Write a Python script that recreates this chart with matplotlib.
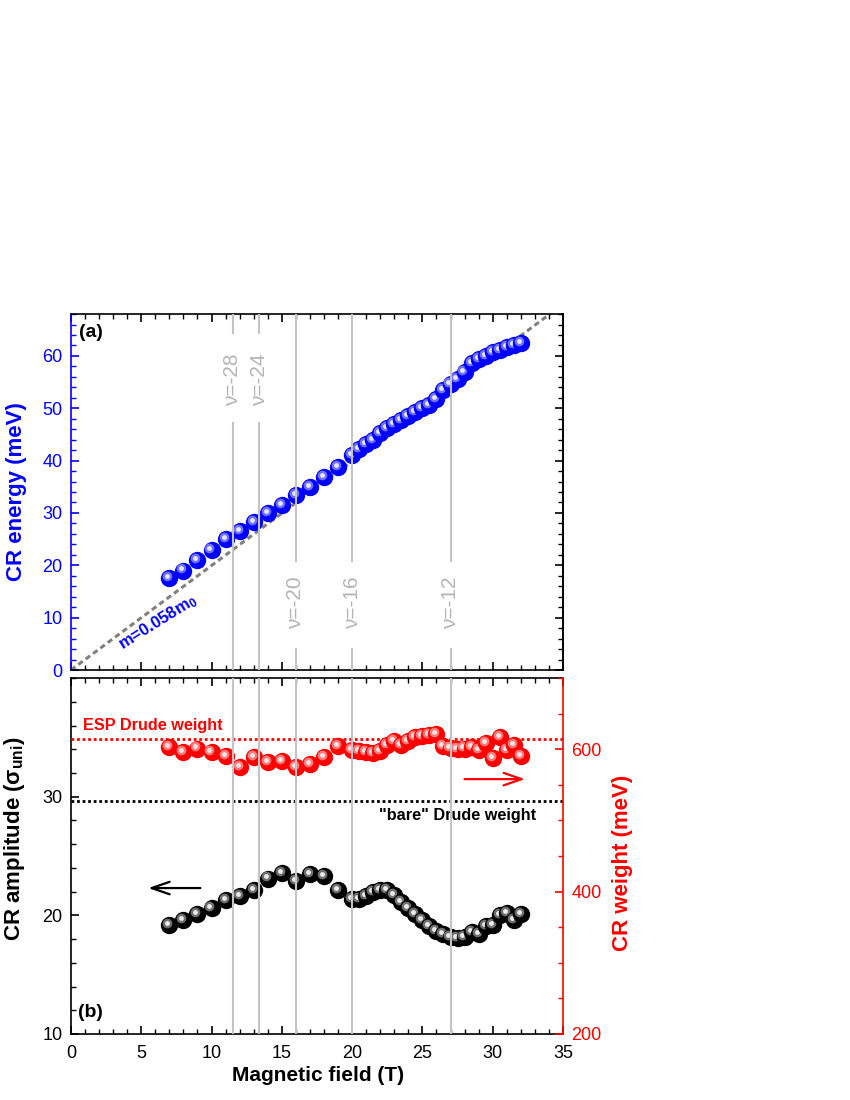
import matplotlib
matplotlib.use('Agg')
import matplotlib.pyplot as plt
from matplotlib.ticker import MultipleLocator
from matplotlib.transforms import offset_copy

plt.rcParams['font.family'] = ['Liberation Sans', 'DejaVu Sans']
plt.rcParams['mathtext.default'] = 'regular'

# magnetic field of every measured point (T)
field = [7, 8, 9, 10, 11, 12, 13, 14, 15, 16, 17, 18, 19,
         20, 20.5, 21, 21.5, 22, 22.5, 23, 23.5, 24, 24.5, 25, 25.5,
         26, 26.5, 27, 27.5, 28, 28.5, 29, 29.5, 30, 30.5, 31, 31.5, 32]

# (a) CR energy (meV)
energy = [17.6, 19.0, 21.0, 22.9, 25.0, 26.6, 28.3, 30.0, 31.6, 33.5, 35.0, 36.8, 38.8,
          41.0, 42.2, 43.2, 44.0, 45.2, 46.2, 47.0, 47.8, 48.6, 49.3, 50.0, 50.7,
          51.8, 53.5, 54.6, 55.6, 57.0, 58.6, 59.4, 60.0, 60.7, 61.2, 61.7, 62.1, 62.5]

# (b) CR amplitude (sigma_uni), left axis
amplitude = [19.2, 19.6, 20.1, 20.6, 21.3, 21.6, 22.1, 23.1, 23.6, 22.9, 23.5, 23.3, 22.1,
             21.4, 21.4, 21.6, 22.0, 22.1, 22.1, 21.7, 21.1, 20.6, 20.1, 19.6, 19.1,
             18.7, 18.4, 18.2, 18.1, 18.2, 18.6, 18.4, 19.1, 19.2, 20.0, 20.2, 19.6, 20.1]

# (b) CR weight (meV), right axis
weight = [603, 596, 601, 596, 591, 575, 589, 582, 584, 575, 579, 589, 604,
          599, 597, 596, 595, 597, 606, 612, 606, 611, 617, 619, 620,
          621, 604, 602, 600, 601, 603, 599, 609, 587, 617, 599, 606, 591]

# filling factors
nu_field = [11.5, 13.4, 16, 20, 27]
nu_labels = ['ν=-28', 'ν=-24', 'ν=-20', 'ν=-16', 'ν=-12']
nu_upper = [True, True, False, False, False]

mass_ratio = 0.058          # m / m0
hbar_e_over_m0 = 0.11577    # meV/T
esp_weight = 615            # meV
bare_amplitude = 29.6

BLUE = '#0000ff'
RED = '#ff0000'
LINE_GREY = '#c4c4c4'
TEXT_GREY = '#b4b4b4'


def balls(ax, x, y, base, mid, core, z0=3):
    # shaded "3D" spheres: base disc + offset highlight
    hl = offset_copy(ax.transData, fig=ax.figure, x=-1.5, y=1.5, units='points')
    for i, (xi, yi) in enumerate(zip(x, y)):
        z = z0 + i * 0.01
        ax.plot(xi, yi, 'o', ms=12.5, color=base, mew=0, zorder=z)
        ax.plot(xi, yi, 'o', ms=7, color=mid, mew=0, transform=hl, zorder=z + 0.003)
        ax.plot(xi, yi, 'o', ms=3.5, color=core, mew=0, transform=hl, zorder=z + 0.006)


def style_x(ax, labels):
    ax.set_xlim(0, 35)
    ax.xaxis.set_major_locator(MultipleLocator(5))
    ax.xaxis.set_minor_locator(MultipleLocator(1))
    ax.tick_params(axis='x', which='both', direction='in', top=True, bottom=True,
                   labelbottom=labels, labelsize=13, pad=8)
    ax.tick_params(axis='x', which='major', length=6, width=1.2)
    ax.tick_params(axis='x', which='minor', length=3.5, width=1)


fig = plt.figure(figsize=(8.5, 11), dpi=100)
ax_a = fig.add_axes([0.0835, 0.3909, 0.5788, 0.3236])
ax_b = fig.add_axes([0.0835, 0.06, 0.5788, 0.3236])

# ---------- panel (a) ----------
style_x(ax_a, False)
ax_a.set_ylim(0, 68)
ax_a.yaxis.set_major_locator(MultipleLocator(10))
ax_a.yaxis.set_minor_locator(MultipleLocator(2))
ax_a.tick_params(axis='y', which='both', direction='in', left=True, right=False,
                 colors=BLUE, labelsize=13, pad=6)
ax_a.tick_params(axis='y', which='major', length=6, width=1.2)
ax_a.tick_params(axis='y', which='minor', length=3.5, width=1)
sec = ax_a.secondary_yaxis('right')
sec.yaxis.set_major_locator(MultipleLocator(10))
sec.yaxis.set_minor_locator(MultipleLocator(2))
sec.tick_params(axis='y', which='both', direction='in', labelright=False, colors='k')
sec.tick_params(axis='y', which='major', length=6, width=1.2)
sec.tick_params(axis='y', which='minor', length=3.5, width=1)
sec.spines['right'].set_linewidth(1.2)
for s in ax_a.spines.values():
    s.set_linewidth(1.2)
ax_a.spines['left'].set_color(BLUE)

slope = hbar_e_over_m0 / mass_ratio
ax_a.plot([0, 35], [0, 35 * slope], color='#808080', lw=2.2, dashes=(1.8, 1.2), zorder=2)
balls(ax_a, field, energy, BLUE, '#7070ff', '#e6e6ff')

for xv, lab, up in zip(nu_field, nu_labels, nu_upper):
    g0, g1 = (0.694, 0.947) if up else (0.059, 0.306)
    ax_a.axvline(xv, 0, g0, color=LINE_GREY, lw=1.5, zorder=10)
    ax_a.axvline(xv, g1, 1, color=LINE_GREY, lw=1.5, zorder=10)
    ax_a.text(xv, 55.5 if up else 12.8, lab, rotation=90, ha='center', va='center',
              color=TEXT_GREY, fontsize=15)

ax_a.text(6.2, 9.0, 'm=0.058m$_{0}$', rotation=32, ha='center', va='center',
          color=BLUE, fontsize=12, fontweight='bold')
ax_a.text(0.04, 0.947, '(a)', transform=ax_a.transAxes, ha='center', va='center',
          fontsize=14, fontweight='bold')
ax_a.set_ylabel('CR energy (meV)', color=BLUE, fontsize=16, fontweight='bold')
ax_a.yaxis.set_label_coords(-0.089, 0.5)

# ---------- panel (b) ----------
style_x(ax_b, True)
ax_b.set_ylim(10, 40)
ax_b.yaxis.set_major_locator(MultipleLocator(10))
ax_b.yaxis.set_minor_locator(MultipleLocator(2))
ax_b.tick_params(axis='y', which='both', direction='in', left=True, right=False,
                 labelsize=13, pad=6)
ax_b.tick_params(axis='y', which='major', length=6, width=1.2)
ax_b.tick_params(axis='y', which='minor', length=3.5, width=1)
ax_b.set_yticks([10, 20, 30])
for s in ax_b.spines.values():
    s.set_linewidth(1.2)
ax_b.spines['right'].set_visible(False)

ax_w = ax_b.twinx()
ax_w.set_ylim(200, 700)
ax_w.set_yticks([200, 400, 600])
ax_w.yaxis.set_minor_locator(MultipleLocator(50))
ax_w.tick_params(axis='y', which='both', direction='in', colors=RED, labelsize=13, pad=6)
ax_w.tick_params(axis='y', which='major', length=6, width=1.2)
ax_w.tick_params(axis='y', which='minor', length=3.5, width=1)
for s in ax_w.spines.values():
    s.set_linewidth(1.2)
ax_w.spines['left'].set_visible(False)
ax_w.spines['top'].set_visible(False)
ax_w.spines['bottom'].set_visible(False)
ax_w.spines['right'].set_color(RED)

ax_b.axhline(bare_amplitude, color='k', lw=2, ls=(0, (1, 1)), zorder=2)
ax_w.axhline(esp_weight, color=RED, lw=2, ls=(0, (1, 1)), zorder=2)
balls(ax_b, field, amplitude, 'black', '#707070', '#ececec')
balls(ax_w, field, weight, RED, '#ff7a7a', '#ffe4e4')
for xv in nu_field:
    ax_w.axvline(xv, color=LINE_GREY, lw=1.5, zorder=10)

ax_w.text(0.85, 634, 'ESP Drude weight', color=RED, fontsize=11.7, fontweight='bold',
          ha='left', va='center')
ax_b.text(33.1, 28.4, '"bare" Drude weight', color='k', fontsize=11.7, fontweight='bold',
          ha='right', va='center')
ax_b.annotate('', xy=(5.3, 22.3), xytext=(9.4, 22.3),
              arrowprops=dict(arrowstyle='->,head_length=1.3,head_width=0.45', color='k', lw=1.6))
ax_w.annotate('', xy=(32.5, 558), xytext=(27.8, 558),
              arrowprops=dict(arrowstyle='->,head_length=1.3,head_width=0.45', color=RED, lw=1.6))
ax_b.text(0.04, 0.059, '(b)', transform=ax_b.transAxes, ha='center', va='center',
          fontsize=14, fontweight='bold')

ax_b.set_xlabel('Magnetic field (T)', fontsize=15, fontweight='bold')
ax_b.xaxis.set_label_coords(0.502, -0.09)
ax_b.set_ylabel(r'CR amplitude ($\sigma_{uni}$)', fontsize=16, fontweight='bold')
ax_b.yaxis.set_label_coords(-0.089, 0.55)
ax_w.set_ylabel('CR weight (meV)', color=RED, fontsize=16, fontweight='bold')
ax_w.yaxis.set_label_coords(1.10, 0.48)

fig.savefig('out.png', dpi=100)
